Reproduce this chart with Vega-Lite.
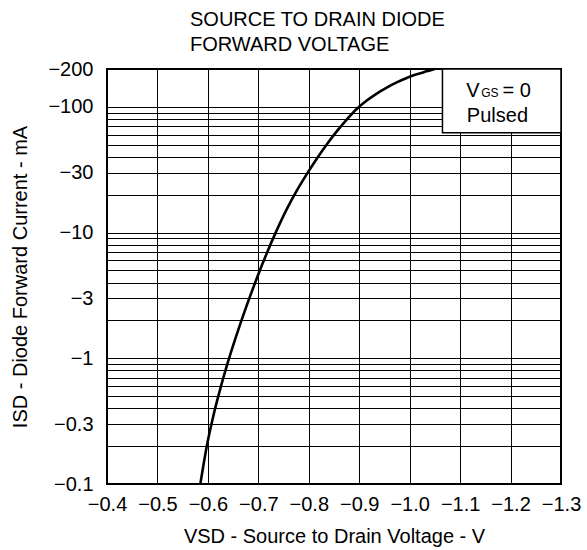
{
  "$schema": "https://vega.github.io/schema/vega-lite/v6.json",
  "width": 454,
  "height": 415,
  "autosize": {"type": "none"},
  "padding": {"left": 107, "top": 69, "right": 26, "bottom": 66},
  "background": "white",
  "config": {
    "font": "Liberation Sans",
    "view": {"stroke": "black", "strokeWidth": 2}
  },
  "title": {
    "text": ["SOURCE TO DRAIN DIODE", "FORWARD VOLTAGE"],
    "anchor": "start",
    "frame": "group",
    "dx": 83,
    "fontSize": 20,
    "fontWeight": "normal",
    "lineHeight": 25,
    "color": "black",
    "offset": 4,
    "font": "Liberation Sans"
  },
  "datasets": {
    "curve": [
      {"vsd": -0.585, "isd": -0.1},
      {"vsd": -0.598, "isd": -0.2017},
      {"vsd": -0.6079, "isd": -0.310},
      {"vsd": -0.6178, "isd": -0.452},
      {"vsd": -0.6376, "isd": -0.873},
      {"vsd": -0.6574, "isd": -1.555},
      {"vsd": -0.6772, "isd": -2.645},
      {"vsd": -0.6970, "isd": -4.338},
      {"vsd": -0.7168, "isd": -6.857},
      {"vsd": -0.7366, "isd": -10.45},
      {"vsd": -0.7564, "isd": -15.36},
      {"vsd": -0.7762, "isd": -21.54},
      {"vsd": -0.7960, "isd": -29.15},
      {"vsd": -0.8158, "isd": -38.71},
      {"vsd": -0.8356, "isd": -50.23},
      {"vsd": -0.8554, "isd": -63.75},
      {"vsd": -0.8752, "isd": -79.11},
      {"vsd": -0.8950, "isd": -96.05},
      {"vsd": -0.9149, "isd": -112.2},
      {"vsd": -0.9347, "isd": -127.6},
      {"vsd": -0.9545, "isd": -142.4},
      {"vsd": -0.9743, "isd": -156.6},
      {"vsd": -0.9941, "isd": -169.8},
      {"vsd": -1.0139, "isd": -181.4},
      {"vsd": -1.0337, "isd": -191.6},
      {"vsd": -1.0495, "isd": -200}
    ],
    "box": [
      {"vsd": -1.065, "vsd2": -1.3, "isd": -62.3, "isd2": -200}
    ],
    "bigText": [
      {"vsd": -1.112, "isd": -120.5, "txt": "V"},
      {"vsd": -1.184, "isd": -120.5, "txt": "= 0"}
    ],
    "subText": [
      {"vsd": -1.1418, "isd": -120.5, "txt": "GS"}
    ],
    "centerText": [
      {"vsd": -1.174, "isd": -76.3, "txt": "Pulsed"}
    ]
  },
  "encoding": {
    "x": {
      "field": "vsd",
      "type": "quantitative",
      "scale": {"domain": [-0.4, -1.3], "nice": false, "zero": false},
      "axis": {
        "title": "VSD - Source to Drain Voltage - V",
        "values": [-0.4, -0.5, -0.6, -0.7, -0.8, -0.9, -1.0, -1.1, -1.2, -1.3],
        "format": ".1f",
        "grid": true,
        "gridColor": "black",
        "gridOpacity": 1,
        "gridWidth": 1,
        "ticks": false,
        "tickSize": 0,
        "domain": false,
        "labelFontSize": 20,
        "labelColor": "black",
        "labelPadding": 10,
        "labelOverlap": false,
        "labelFlush": false,
        "titleFontSize": 20,
        "titleFontWeight": "normal",
        "titleColor": "black",
        "titlePadding": 12
      }
    },
    "y": {
      "field": "isd",
      "type": "quantitative",
      "scale": {"type": "log", "domain": [-0.1, -200], "nice": false},
      "axis": {
        "title": "ISD - Diode Forward Current - mA",
        "values": [-0.1, -0.2, -0.3, -0.4, -0.5, -0.6, -0.7, -0.8, -0.9, -1, -2, -3, -4, -5, -6, -7, -8, -9, -10, -20, -30, -40, -50, -60, -70, -80, -90, -100, -200],
        "format": "~g",
        "labelExpr": "indexof([-0.1, -0.3, -1, -3, -10, -30, -100, -200], datum.value) >= 0 ? datum.label : ''",
        "grid": true,
        "gridColor": "black",
        "gridOpacity": 1,
        "gridWidth": 1,
        "ticks": false,
        "tickSize": 0,
        "domain": false,
        "labelFontSize": 20,
        "labelColor": "black",
        "labelPadding": 14,
        "labelOverlap": false,
        "labelFlush": false,
        "titleFontSize": 20,
        "titleFontWeight": "normal",
        "titleColor": "black",
        "titlePadding": 17
      }
    }
  },
  "layer": [
    {
      "data": {"name": "curve"},
      "mark": {"type": "line", "color": "black", "strokeWidth": 2.6, "interpolate": "catmull-rom"}
    },
    {
      "data": {"name": "box"},
      "mark": {"type": "rect", "fill": "white", "stroke": "black", "strokeWidth": 1.5},
      "encoding": {
        "x2": {"field": "vsd2"},
        "y2": {"field": "isd2"}
      }
    },
    {
      "data": {"name": "bigText"},
      "mark": {"type": "text", "align": "left", "baseline": "alphabetic", "fontSize": 20, "color": "black"},
      "encoding": {"text": {"field": "txt"}}
    },
    {
      "data": {"name": "subText"},
      "mark": {"type": "text", "align": "left", "baseline": "alphabetic", "fontSize": 12, "color": "black"},
      "encoding": {"text": {"field": "txt"}}
    },
    {
      "data": {"name": "centerText"},
      "mark": {"type": "text", "align": "center", "baseline": "alphabetic", "fontSize": 20, "color": "black"},
      "encoding": {"text": {"field": "txt"}}
    }
  ]
}
